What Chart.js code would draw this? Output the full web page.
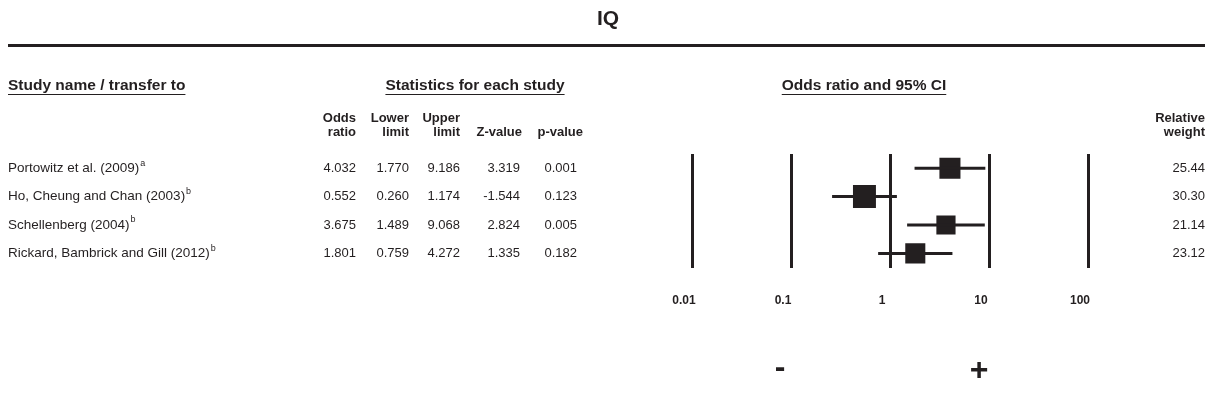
<!DOCTYPE html>
<html>
<head>
<meta charset="utf-8">
<script src="https://cdn.jsdelivr.net/npm/chart.js@4.4.1/dist/chart.umd.min.js"></script>
<style>
  body { margin: 0; background: #fff; }
  #forest { display: block; }
</style>
</head>
<body>
<canvas id="forest" width="1211" height="408"></canvas>
<script>
const studies = ['Portowitz et al. (2009)', 'Ho, Cheung and Chan (2003)', 'Schellenberg (2004)', 'Rickard, Bambrick and Gill (2012)'];
const notes = ['a', 'b', 'b', 'b'];
const oddsRatio = [4.032, 0.552, 3.675, 1.801];
const lowerLimit = [1.770, 0.260, 1.489, 0.759];
const upperLimit = [9.186, 1.174, 9.068, 4.272];
const zValue = [3.319, -1.544, 2.824, 1.335];
const pValue = [0.001, 0.123, 0.005, 0.182];
const relWeight = [25.44, 30.30, 21.14, 23.12];
const xTicks = [0.01, 0.1, 1, 10, 100];
const tickLabels = ['0.01', '0.1', '1', '10', '100'];

const ink = '#231f20';
const font = 'Liberation Sans, Arial, Helvetica, sans-serif';

// one line dataset per study for the confidence interval
const ciSets = studies.map((s, i) => ({
    type: 'line',
    data: [{ x: lowerLimit[i], y: i + 1 }, { x: upperLimit[i], y: i + 1 }],
    borderColor: ink,
    borderWidth: 3,
    pointRadius: 0,
    fill: false
}));

const boxSet = {
    type: 'scatter',
    data: oddsRatio.map((v, i) => ({ x: v, y: i + 1 })),
    pointStyle: 'rect',
    pointRadius: relWeight.map(w => Math.sqrt(w) * 2.95),
    backgroundColor: ink,
    borderColor: ink,
    borderWidth: 0
};

const tablePlugin = {
    id: 'table',
    afterDraw(chart) {
        const ctx = chart.ctx;
        const yS = chart.scales.y;
        const xS = chart.scales.x;
        ctx.save();
        ctx.fillStyle = ink;
        ctx.strokeStyle = ink;

        // title + rule
        ctx.font = 'bold 21px ' + font;
        ctx.textAlign = 'center';
        ctx.textBaseline = 'middle';
        ctx.fillText('IQ', 608, 19);
        ctx.fillRect(8, 44, 1197, 3);

        // underlined headers
        function under(txt, x, y, align) {
            ctx.font = 'bold 15.5px ' + font;
            ctx.textAlign = align;
            ctx.fillText(txt, x, y);
            const w = ctx.measureText(txt).width;
            const x0 = align === 'center' ? x - w / 2 : x;
            ctx.fillRect(x0, y + 8, w, 1);
        }
        under('Study name / transfer to', 8, 86, 'left');
        under('Statistics for each study', 475, 86, 'center');
        under('Odds ratio and 95% CI', 864, 86, 'center');

        ctx.font = 'bold 13px ' + font;
        ctx.textAlign = 'right';
        const cols = [356, 409, 460, 522, 583];
        ctx.fillText('Odds', cols[0], 118);
        ctx.fillText('ratio', cols[0], 132);
        ctx.fillText('Lower', cols[1], 118);
        ctx.fillText('limit', cols[1], 132);
        ctx.fillText('Upper', cols[2], 118);
        ctx.fillText('limit', cols[2], 132);
        ctx.fillText('Z-value', cols[3], 132);
        ctx.fillText('p-value', cols[4], 132);
        ctx.fillText('Relative', 1205, 118);
        ctx.fillText('weight', 1205, 132);

        // rows
        studies.forEach((s, i) => {
            const y = yS.getPixelForValue(i + 1);
            ctx.font = '13.5px ' + font;
            ctx.textAlign = 'left';
            ctx.fillText(s, 8, y);
            const w = ctx.measureText(s).width;
            ctx.font = '9px ' + font;
            ctx.fillText(notes[i], 8 + w + 1, y - 5);
            ctx.font = '13px ' + font;
            ctx.textAlign = 'right';
            ctx.fillText(oddsRatio[i].toFixed(3), cols[0], y);
            ctx.fillText(lowerLimit[i].toFixed(3), cols[1], y);
            ctx.fillText(upperLimit[i].toFixed(3), cols[2], y);
            ctx.fillText(zValue[i].toFixed(3), 520, y);
            ctx.fillText(pValue[i].toFixed(3), 577, y);
            ctx.fillText(relWeight[i].toFixed(2), 1205, y);
        });

        // direction signs under 0.1 and 10
        ctx.font = 'bold 32px ' + font;
        ctx.textAlign = 'center';
        ctx.fillText('-', xS.getPixelForValue(0.1) - 11, 368);
        ctx.fillText('+', xS.getPixelForValue(10) - 10, 371);
        ctx.restore();
    }
};

new Chart(document.getElementById('forest'), {
    type: 'scatter',
    data: { datasets: [...ciSets, boxSet] },
    options: {
        responsive: false,
        animation: false,
        devicePixelRatio: 1,
        layout: { padding: { left: 692, right: 123, top: 154, bottom: 74 } },
        plugins: { legend: { display: false }, tooltip: { enabled: false } },
        scales: {
            x: {
                type: 'logarithmic',
                min: 0.01,
                max: 100,
                afterBuildTicks: axis => { axis.ticks = xTicks.map(v => ({ value: v })); },
                border: { display: false },
                grid: { color: ink, lineWidth: 3, drawTicks: false },
                ticks: {
                    autoSkip: false,
                    maxRotation: 0,
                    padding: 26,
                    labelOffset: -8,
                    color: ink,
                    font: { family: font, size: 12, weight: 'bold' },
                    callback: (v, i) => tickLabels[i]
                }
            },
            y: {
                type: 'linear',
                min: 0.5,
                max: 4.5,
                reverse: true,
                display: false
            }
        }
    },
    plugins: [tablePlugin]
});
</script>
</body>
</html>
